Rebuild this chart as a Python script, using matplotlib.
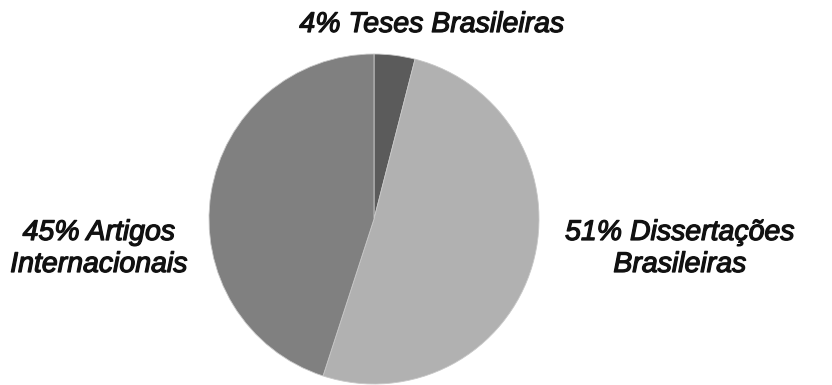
import matplotlib.pyplot as plt
import matplotlib.patheffects as pe

categories = ["Teses Brasileiras", "Dissertações Brasileiras", "Artigos Internacionais"]
label_lines = [["4% Teses Brasileiras"],
               ["51% Dissertações", "Brasileiras"],
               ["45% Artigos", "Internacionais"]]
values = [4, 51, 45]
colors = ["#5b5b5b", "#b1b1b1", "#808080"]

W, H = 832, 385
fig = plt.figure(figsize=(W / 100, H / 100), dpi=100)
fig.patch.set_facecolor("white")

# pie centred at (374, 219) px with radius 165 px
cx, cy, r = 374, 219, 165
ax = fig.add_axes([(cx - r) / W, (H - cy - r) / H, 2 * r / W, 2 * r / H])
ax.pie(values, colors=colors, startangle=90, counterclock=False,
       wedgeprops=dict(linewidth=0.6, edgecolor="#c8c8c8"))
ax.set_aspect("equal")
ax.set_xlim(-1, 1)
ax.set_ylim(-1, 1)
ax.axis("off")

font = dict(family="Liberation Sans", weight="normal", style="italic",
            size=20.5, color="#111111", ha="center", va="center",
            path_effects=[pe.withStroke(linewidth=0.9, foreground="#111111")])
label_pos = [(432, 25), (680, 233), (99, 233)]
line_gap = 32
for lines, (x, y) in zip(label_lines, label_pos):
    for i, line in enumerate(lines):
        fig.text(x / W, 1 - (y + i * line_gap) / H, line, **font)

fig.savefig("out.png", dpi=100, facecolor="white")
